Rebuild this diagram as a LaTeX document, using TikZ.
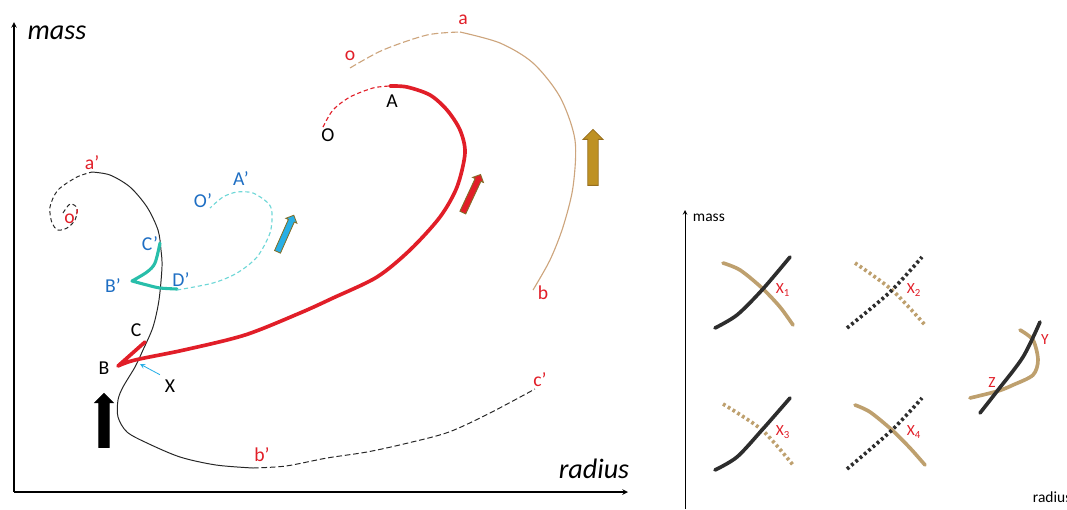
\documentclass[tikz,border=0pt]{standalone}
\usepackage{fontspec}
\setmainfont{Carlito}
\usetikzlibrary{shapes,arrows,positioning}
\definecolor{trackred}{RGB}{225,30,40}
\definecolor{tanline}{RGB}{205,165,125}
\definecolor{cyanline}{RGB}{110,215,215}
\definecolor{tealline}{RGB}{40,190,170}
\definecolor{labelblue}{RGB}{30,110,195}
\definecolor{goldfill}{RGB}{190,145,35}
\definecolor{golddraw}{RGB}{150,110,30}
\definecolor{skyfill}{RGB}{40,175,230}
\definecolor{olivedraw}{RGB}{130,110,40}
\definecolor{crossbrown}{RGB}{190,160,110}
\definecolor{crossblack}{RGB}{45,45,45}

\begin{document}
\begin{tikzpicture}[
    x=0.025cm, y=-0.025cm, >=stealth,
    redlabel/.style={text=trackred, font=\fontsize{14}{16}\selectfont},
    bluelabel/.style={text=labelblue, font=\fontsize{14}{16}\selectfont},
    blacklabel/.style={text=black, font=\fontsize{14}{16}\selectfont},
    smalllabel/.style={text=trackred, font=\fontsize{11}{13}\selectfont},
    handlabel/.style={font=\fontsize{20}{22}\selectfont\itshape},
    blockarrow/.style={single arrow, draw, line width=0.6pt, inner sep=0.07cm, single arrow head extend=0.07cm, anchor=center},
    thinblack/.style={line width=0.7pt, black!85},
    redline/.style={line width=2.6pt, trackred, line cap=round, line join=round},
    tealpath/.style={line width=2.2pt, tealline, line cap=round, line join=round},
    crossline/.style={line width=2.6pt, line cap=round},
    crossdots/.style={line width=2.6pt, dash pattern=on 2pt off 2pt}
]
\useasboundingbox (0,0) rectangle (1067,509);

% Left axes
\coordinate (origin) at (14,492);
\coordinate (ytop) at (14,22);
\coordinate (xend) at (628,492);
\draw[->, line width=0.8pt] (origin) -- (ytop);
\draw[->, line width=0.8pt] (origin) -- (xend);
\node[handlabel] (masslbl) at (57,33) {mass};
\node[handlabel] (radiuslbl) at (594,469) {radius};

% Black track (spiral, solid, then dashed tail)
\draw[thinblack, dashed, dash pattern=on 3pt off 2pt] plot[smooth] coordinates {(63,213) (70,204) (77,208) (75,220) (67,228) (58,230) (52,223) (50,207) (58,190) (77,177) (92,172)};
\draw[thinblack] plot[smooth] coordinates {(92,172) (110,175) (130,187) (147,207) (158,230) (161,250) (162,267) (159,300) (153,327) (143,350) (135,367) (123,387) (118,400) (118,417) (127,432) (147,443) (180,457) (216,465) (253,468)};
\draw[thinblack, dashed, dash pattern=on 4pt off 2pt] plot[smooth] coordinates {(253,468) (286,466) (327,458) (367,452) (408,443) (449,432) (490,413) (535,389)};
\node[redlabel] (aprime) at (92,163) {a’};
\node[redlabel] (oprime) at (72,217) {o’};
\node[redlabel] (bprime) at (262,455) {b’};
\node[redlabel] (cprime) at (540,380) {c’};

% Red track
\draw[trackred, line width=0.8pt, dashed, dash pattern=on 3pt off 2pt] plot[smooth] coordinates {(323,127) (333,110) (350,97) (373,88) (390,86)};
\draw[redline] plot[smooth] coordinates {(390,86) (407,87) (430,95) (447,110) (460,130) (465,153) (457,187) (440,217) (410,250) (377,277) (333,298) (300,313) (245,335) (184,350) (135,360) (118,366)} -- (145,342);
\node[blacklabel] (olbl) at (328,135) {O};
\node[blacklabel] (albl) at (392,101) {A};
\node[blacklabel] (blbl) at (104,368) {B};
\node[blacklabel] (clbl) at (136,330) {C};
\node[blacklabel] (xlbl) at (170,386) {X};
\coordinate (xpt) at (140,364);
\draw[->, skyfill, line width=0.6pt] (xlbl.north west) -- (xpt);

% Tan track
\draw[tanline, line width=0.8pt, dashed, dash pattern=on 5pt off 2pt] plot[smooth] coordinates {(350,68) (383,50) (427,35) (460,32)};
\draw[tanline, line width=0.8pt] plot[smooth] coordinates {(460,32) (500,43) (533,63) (560,97) (575,140) (573,187) (563,227) (550,260) (533,290)};
\node[redlabel] (olow) at (350,56) {o};
\node[redlabel] (alow) at (463,20) {a};
\node[redlabel] (blow) at (543,293) {b};

% Cyan / teal track
\draw[tealpath] plot[smooth] coordinates {(160,243) (155,263) (147,272) (132,281)} -- plot[smooth] coordinates {(132,281) (147,285) (160,288) (177,289)};
\draw[cyanline, line width=0.8pt, dashed, dash pattern=on 3pt off 2pt] plot[smooth] coordinates {(177,290) (213,283) (237,273) (257,257) (270,233) (272,213) (268,203) (253,193) (237,192) (223,197) (210,208)};
\node[bluelabel] (oblue) at (203,201) {O’};
\node[bluelabel] (ablue) at (241,179) {A’};
\node[bluelabel] (cblue) at (150,244) {C’};
\node[bluelabel] (bblue) at (113,286) {B’};
\node[bluelabel] (dblue) at (181,280) {D’};

% Block arrows
\node[blockarrow, fill=black, draw=black, rotate=90, minimum height=1.35cm, inner sep=0.12cm, single arrow head extend=0.1cm] (blackarrow) at (104,423) {};
\node[blockarrow, fill=skyfill, draw=olivedraw, rotate=66, minimum height=1.0cm] (bluearrow) at (285,235) {};
\node[blockarrow, fill=trackred, draw=olivedraw, rotate=65, minimum height=1.05cm] (redarrow) at (471,195) {};
\node[blockarrow, fill=goldfill, draw=golddraw, rotate=90, minimum height=1.4cm, inner sep=0.12cm, single arrow head extend=0.12cm] (goldarrow) at (593,160) {};

% Right panel
\coordinate (rorigin) at (685,509);
\coordinate (rtop) at (685,210);
\draw[->, line width=0.5pt] (rorigin) -- (rtop);
\node[anchor=west, font=\fontsize{11}{13}\selectfont] (rmass) at (688,218) {mass};
\node[anchor=west, font=\fontsize{11}{13}\selectfont] (rradius) at (1028,497) {radius};

% X1
\draw[crossline, crossbrown] plot[smooth] coordinates {(723,263) (740,270) (762,288) (780,307) (793,325)};
\draw[crossline, crossblack] plot[smooth] coordinates {(715,328) (737,315) (762,290) (790,257)};
\node[smalllabel] (xone) at (783,290) {X\textsubscript{1}};
% X2
\draw[crossdots, crossbrown] plot[smooth] coordinates {(855,263) (892,290) (925,325)};
\draw[crossdots, crossblack] plot[smooth] coordinates {(847,328) (890,292) (922,257)};
\node[smalllabel] (xtwo) at (914,290) {X\textsubscript{2}};
% X3
\draw[crossdots, crossbrown] plot[smooth] coordinates {(723,404) (762,430) (793,465)};
\draw[crossline, crossblack] plot[smooth] coordinates {(715,470) (737,457) (762,430) (790,398)};
\node[smalllabel] (xthree) at (783,432) {X\textsubscript{3}};
% X4
\draw[crossline, crossbrown] plot[smooth] coordinates {(855,405) (870,412) (892,430) (910,448) (925,465)};
\draw[crossdots, crossblack] plot[smooth] coordinates {(847,469) (892,430) (922,398)};
\node[smalllabel] (xfour) at (914,432) {X\textsubscript{4}};
% Y and Z
\draw[crossline, crossbrown] plot[smooth] coordinates {(1020,330) (1033,340) (1038,360) (1033,375) (1013,385) (998,391) (970,398)};
\draw[crossline, crossblack] plot[smooth] coordinates {(980,413) (998,390) (1023,357) (1040,322)};
\node[smalllabel] (ylbl) at (1045,340) {Y};
\node[smalllabel] (zlbl) at (992,383) {Z};

\end{tikzpicture}
\end{document}
